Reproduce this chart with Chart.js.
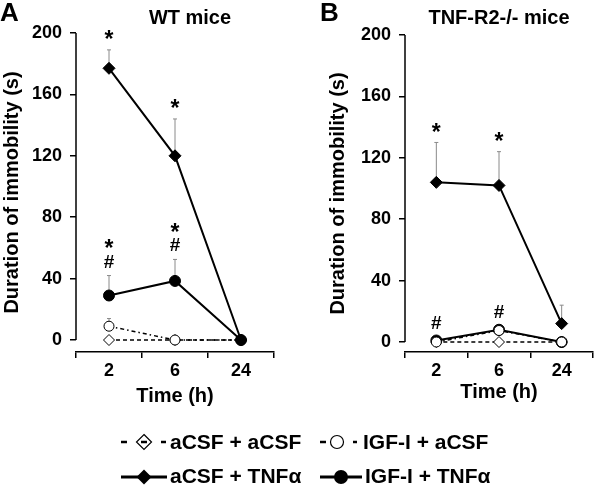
<!DOCTYPE html>
<html>
<head>
<meta charset="utf-8">
<script src="https://cdn.jsdelivr.net/npm/chart.js@4.4.0/dist/chart.umd.min.js"></script>
<style>
  html, body { margin: 0; padding: 0; background: #fff; }
  #wrap { position: relative; width: 600px; height: 486px; overflow: hidden; }
  .panel { position: absolute; top: 0; width: 300px; height: 412px; }
  #overlay { position: absolute; left: 0; top: 0; }
</style>
</head>
<body>
<div id="wrap">
  <div class="panel" style="left:0"><canvas id="chartA"></canvas></div>
  <div class="panel" style="left:300px"><canvas id="chartB"></canvas></div>
  <svg id="overlay" width="600" height="486" font-family="Liberation Sans, Arial, sans-serif" font-weight="bold">
    <text x="0" y="21" font-size="26">A</text>
    <text x="190" y="24" font-size="20" text-anchor="middle">WT mice</text>
    <text x="320" y="21" font-size="26">B</text>
    <text x="499" y="24" font-size="20" text-anchor="middle">TNF-R2-/- mice</text>

    <!-- legend -->
    <line x1="121" y1="442" x2="166" y2="442" stroke="#000" stroke-width="2.5" stroke-dasharray="6 14"/>
    <polygon points="144,434.5 151.5,442 144,449.5 136.5,442" fill="none" stroke="#000" stroke-width="1.2"/>
    <text x="170" y="449" font-size="21">aCSF + aCSF</text>

    <line x1="320" y1="442" x2="326" y2="442" stroke="#000" stroke-width="2.5"/>
    <line x1="353" y1="442" x2="357" y2="442" stroke="#000" stroke-width="2.5"/>
    <circle cx="337" cy="442" r="6.5" fill="#fff" stroke="#000" stroke-width="1.2"/>
    <text x="363" y="449" font-size="21">IGF-I + aCSF</text>

    <line x1="121" y1="477" x2="167" y2="477" stroke="#000" stroke-width="3"/>
    <polygon points="144,469.5 151.5,477 144,484.5 136.5,477" fill="#000"/>
    <text x="170" y="483" font-size="21">aCSF + TNFα</text>

    <line x1="320" y1="477" x2="362" y2="477" stroke="#000" stroke-width="3"/>
    <circle cx="341" cy="477" r="7" fill="#000"/>
    <text x="365" y="483" font-size="21">IGF-I + TNFα</text>
  </svg>
</div>
<script>
// ================= DATA =================
const timeLabels = ["2", "6", "24"];
const yTicks = [0, 40, 80, 120, 160, 200];

// A: WT mice
const wtAcsfAcsf = [0, 0, 0];
const wtIgfAcsf = [9, 0, 0];
const wtAcsfTnf = [177, 120, 0];
const wtIgfTnf = [29, 38.5, 0];
const wtIgfAcsfErr = [5, 0, 0];
const wtAcsfTnfErr = [12, 24, 0];
const wtIgfTnfErr = [13, 14, 0];
const wtAcsfTnfSig = ["*", "*", ""];
const wtIgfTnfSig = ["*#", "*#", ""];

// B: TNF-R2-/- mice
const koAcsfAcsf = [0, 0, 0];
const koIgfAcsf = [0, 7.5, 0];
const koAcsfTnf = [104, 102, 12];
const koIgfTnf = [1, 8, 0];
const koAcsfTnfErr = [26, 22, 12];
const koAcsfTnfSig = ["*", "*", ""];
const koIgfAcsfSig = ["#", "#", ""];

const FONT = "'Liberation Sans', Arial, sans-serif";

// ================= SERIES STYLES =================
function acsfAcsf(data, order) {
  return { label: "aCSF + aCSF", data, order, borderColor: "#000", borderWidth: 1.5, borderDash: [4, 3],
    pointStyle: "rectRot", pointRadius: 5.5, pointBackgroundColor: "#fff", pointBorderColor: "#000", pointBorderWidth: 1 };
}
function igfAcsf(data, order, err, sig) {
  return { label: "IGF-I + aCSF", data, order, err, sig, borderColor: "#000", borderWidth: 1.5, borderDash: [4, 3, 1.5, 3],
    pointStyle: "circle", pointRadius: 5, pointBackgroundColor: "#fff", pointBorderColor: "#000", pointBorderWidth: 1 };
}
function acsfTnf(data, order, err, sig) {
  return { label: "aCSF + TNFα", data, order, err, sig, borderColor: "#000", borderWidth: 2,
    pointStyle: "rectRot", pointRadius: 6, pointBackgroundColor: "#000", pointBorderColor: "#000", pointBorderWidth: 1 };
}
function igfTnf(data, order, err, sig) {
  return { label: "IGF-I + TNFα", data, order, err, sig, borderColor: "#000", borderWidth: 2,
    pointStyle: "circle", pointRadius: 5.5, pointBackgroundColor: "#000", pointBorderColor: "#000", pointBorderWidth: 1 };
}

// ================= PLUGINS =================
// y axis line only from 0 to 200 (x axis sits a bit lower)
const yAxisLine = {
  id: "yAxisLine",
  afterDraw(chart) {
    const ctx = chart.ctx, y = chart.scales.y, x = chart.chartArea.left;
    ctx.save();
    ctx.strokeStyle = "#000";
    ctx.lineWidth = 1.5;
    ctx.beginPath();
    ctx.moveTo(x, y.getPixelForValue(yTicks[yTicks.length - 1]));
    ctx.lineTo(x, y.getPixelForValue(yTicks[0]));
    ctx.stroke();
    ctx.restore();
  }
};

// upper error bars (SEM) + significance symbols
const errorBars = {
  id: "errorBars",
  beforeDatasetsDraw(chart) {
    const ctx = chart.ctx, ys = chart.scales.y;
    ctx.save();
    ctx.strokeStyle = "#8a8a8a";
    ctx.lineWidth = 1;
    chart.data.datasets.forEach((ds, di) => {
      if (!ds.err) return;
      const meta = chart.getDatasetMeta(di);
      ds.err.forEach((e, i) => {
        if (!e) return;
        const px = meta.data[i].x;
        const top = ys.getPixelForValue(ds.data[i] + e);
        ctx.beginPath();
        ctx.moveTo(px, ys.getPixelForValue(ds.data[i]));
        ctx.lineTo(px, top);
        ctx.moveTo(px - 2, top);
        ctx.lineTo(px + 2, top);
        ctx.stroke();
      });
    });
    ctx.restore();
  },
  afterDatasetsDraw(chart) {
    const ctx = chart.ctx, ys = chart.scales.y;
    ctx.save();
    ctx.fillStyle = "#000";
    ctx.textAlign = "center";
    ctx.textBaseline = "alphabetic";
    chart.data.datasets.forEach((ds, di) => {
      if (!ds.sig) return;
      const meta = chart.getDatasetMeta(di);
      ds.sig.forEach((s, i) => {
        if (!s) return;
        const px = meta.data[i].x;
        const e = ds.err ? ds.err[i] : 0;
        let base = e ? ys.getPixelForValue(ds.data[i] + e) : ys.getPixelForValue(ds.data[i]) - ds.pointRadius;
        let cy = base - 15;
        // stacked from bottom to top
        s.split("").reverse().forEach(ch => {
          if (ch === "*") {
            ctx.font = "bold 23px " + FONT;
            ctx.fillText(ch, px, cy + 12.5);
          } else {
            ctx.font = "bold 19px " + FONT;
            ctx.fillText(ch, px, cy + 7);
          }
          cy -= 17;
        });
      });
    });
    ctx.restore();
  }
};

// ================= CHARTS =================
function makeChart(id, datasets, opt) {
  const ctx = document.getElementById(id).getContext("2d");
  return new Chart(ctx, {
    type: "line",
    data: { labels: timeLabels, datasets },
    plugins: [yAxisLine, errorBars],
    options: {
      responsive: true,
      maintainAspectRatio: false,
      animation: false,
      layout: { padding: { top: opt.top, left: opt.left, right: opt.right, bottom: 0 } },
      plugins: { legend: { display: false }, tooltip: { enabled: false } },
      elements: { line: { tension: 0 } },
      scales: {
        x: {
          offset: true,
          grid: { offset: true, drawOnChartArea: false, drawTicks: true, tickLength: 6, color: "#000", lineWidth: 1.5 },
          border: { display: true, color: "#000", width: 1.5 },
          ticks: { color: "#000", font: { family: FONT, size: 18, weight: "bold" }, padding: 2 },
          title: { display: true, text: "Time (h)", color: "#000",
            font: { family: FONT, size: 20, weight: "bold" }, padding: { top: 0, bottom: opt.xTitlePad } },
          afterFit(s) { s.height = 60; }
        },
        y: {
          min: opt.min,
          max: 200,
          bounds: "data",
          afterBuildTicks(s) { s.ticks = yTicks.map(v => ({ value: v })); },
          afterFit(s) { s.width = opt.yWidth; },
          grid: { drawOnChartArea: false, drawTicks: true, tickLength: 6, color: "#000", lineWidth: 1.5 },
          border: { display: false },
          ticks: { color: "#000", font: { family: FONT, size: 18, weight: "bold" }, padding: 8 },
          title: { display: true, text: "Duration of immobility (s)", color: "#000",
            font: { family: FONT, size: 20, weight: "bold" }, padding: 0 }
        }
      }
    }
  });
}

makeChart("chartA", [
  igfTnf(wtIgfTnf, 0, wtIgfTnfErr, wtIgfTnfSig),
  igfAcsf(wtIgfAcsf, 1, wtIgfAcsfErr, null),
  acsfAcsf(wtAcsfAcsf, 2),
  acsfTnf(wtAcsfTnf, 3, wtAcsfTnfErr, wtAcsfTnfSig)
], { top: 33, left: 0, right: 26, min: -7.8, yWidth: 76, xTitlePad: 4 });

makeChart("chartB", [
  igfAcsf(koIgfAcsf, 0, null, koIgfAcsfSig),
  igfTnf(koIgfTnf, 1, null, null),
  acsfAcsf(koAcsfAcsf, 2),
  acsfTnf(koAcsfTnf, 3, koAcsfTnfErr, koAcsfTnfSig)
], { top: 35, left: 26, right: 0, min: -6.5, yWidth: 79, xTitlePad: 8 });
</script>
</body>
</html>
